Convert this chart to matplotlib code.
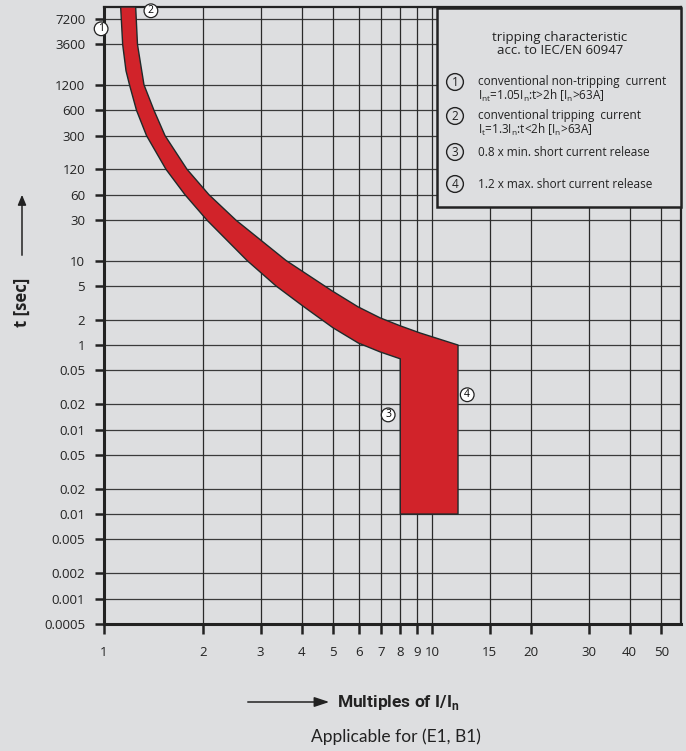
import matplotlib
matplotlib.use('Agg')
import matplotlib.pyplot as plt
from matplotlib.patches import Rectangle, FancyArrowPatch

plt.rcParams['font.family'] = ['Open Sans', 'DejaVu Sans']

BG = '#dddee0'
RED = '#d1232a'

# y ticks (real values) and the labels as printed on the sheet
y_ticks = [7200, 3600, 1200, 600, 300, 120, 60, 30, 10, 5, 2, 1,
           0.5, 0.2, 0.1, 0.05, 0.02, 0.01, 0.005, 0.002, 0.001, 0.0005]
y_labels = ['7200', '3600', '1200', '600', '300', '120', '60', '30', '10', '5', '2', '1',
            '0.05', '0.02', '0.01', '0.05', '0.02', '0.01', '0.005', '0.002', '0.001', '0.0005']
x_ticks = [1, 2, 3, 4, 5, 6, 7, 8, 9, 10, 15, 20, 30, 40, 50]

# lower limit of the band (I/In, t[s])
low_x = [1.124, 1.140, 1.167, 1.196, 1.256, 1.348, 1.545, 1.766, 2.061, 2.73,
         3.345, 4.07, 4.99, 5.95, 6.94, 8.0]
low_t = [10000, 3600, 1758, 1200, 600, 300, 120, 60, 30, 10,
         5, 2.83, 1.6, 1.06, 0.83, 0.687]
# upper limit of the band
up_x = [1.249, 1.265, 1.324, 1.420, 1.535, 1.791, 2.090, 2.526, 3.59, 4.955,
        5.95, 6.94, 7.99, 9.19, 12.0]
up_t = [10000, 3600, 1200, 600, 300, 120, 60, 30, 10, 4.38,
        2.83, 2.1, 1.69, 1.39, 1.0]
# instantaneous release block
inst_x = [8.0, 12.0]
inst_t_min = 0.01

W, H = 686, 751
fig = plt.figure(figsize=(W / 100, H / 100), dpi=100, facecolor=BG)
ax = fig.add_axes([104 / W, 1 - 624 / H, (681 - 104) / W, (624 - 7) / H])
ax.set_facecolor(BG)
ax.set_xscale('log')
ax.set_yscale('log')
ax.set_xlim(1, 57.4)
ax.set_ylim(0.0005, 10000)

# grid
for yv in y_ticks:
    ax.axhline(yv, color='#3a3a3a', lw=0.9, zorder=1)
for xv in x_ticks[1:]:
    ax.axvline(xv, color='#2a2a2a', lw=0.9, zorder=1)

# band polygon
px = low_x + [inst_x[0], inst_x[1]] + up_x[::-1]
pt = low_t + [inst_t_min, inst_t_min] + up_t[::-1]
ax.fill(px, pt, facecolor=RED, edgecolor='#1f2a2a', lw=1.0, zorder=3,
        joinstyle='round')

ax.set_xticks(x_ticks)
ax.set_xticklabels([str(v) for v in x_ticks])
ax.set_yticks(y_ticks)
ax.set_yticklabels(y_labels)
ax.minorticks_off()
ax.tick_params(axis='y', direction='out', length=6.5, width=1.8, pad=7,
               labelsize=9.5, colors='#222222')
ax.tick_params(axis='x', direction='out', length=7, width=1.8, pad=9,
               labelsize=9.5, colors='#222222')
for s in ['left', 'bottom']:
    ax.spines[s].set_linewidth(2.2)
    ax.spines[s].set_color('#222222')
for s in ['top', 'right']:
    ax.spines[s].set_linewidth(1.6)
    ax.spines[s].set_color('#222222')

# circled markers on the chart
circ = dict(boxstyle='circle,pad=0.13', fc='white', ec='#222222', lw=0.9)
for num, (xx, tt) in zip(['1', '2', '3', '4'],
                         [(0.98, 5520), (1.39, 9020), (7.35, 0.149), (12.8, 0.258)]):
    ax.text(xx, tt, num, fontsize=7.5, ha='center', va='center', bbox=circ,
            zorder=6, clip_on=False)


def F(x, y):
    return x / W, 1 - y / H


# legend box
box = Rectangle(F(437, 207), (681 - 437) / W, (207 - 8) / H, transform=fig.transFigure,
                facecolor=BG, edgecolor='#222222', lw=1.8, zorder=10)
fig.patches.append(box)

fig.text(*F(560, 37), 'tripping characteristic', fontsize=9.5, ha='center', va='center',
         color='#222222', zorder=11)
fig.text(*F(560, 51), 'acc. to IEC/EN 60947', fontsize=9.5, ha='center', va='center',
         color='#222222', zorder=11)

legend_items = [
    ('1', 82, 14, ['conventional non-tripping  current',
                   r'I$_\mathregular{nt}$=1.05I$_\mathregular{n}$:t>2h [I$_\mathregular{n}$>63A]']),
    ('2', 116, 14, ['conventional tripping  current',
                    r'I$_\mathregular{t}$=1.3I$_\mathregular{n}$:t<2h [I$_\mathregular{n}$>63A]']),
    ('3', 152, 0, ['0.8 x min. short current release']),
    ('4', 184, 0, ['1.2 x max. short current release']),
]
lcirc = dict(boxstyle='circle,pad=0.16', fc='none', ec='#222222', lw=1.0)
for num, yy, gap, lines in legend_items:
    fig.text(*F(455, yy), num, fontsize=8.5, ha='center', va='center', bbox=lcirc,
             zorder=11, color='#222222')
    for i, ln in enumerate(lines):
        fig.text(*F(478, yy + i * gap), ln, fontsize=8.5, ha='left', va='center',
                 color='#222222', zorder=11)

# axis titles
fig.text(*F(22, 302), 't [sec]', rotation=90, fontsize=12, fontweight='bold',
         ha='center', va='center', color='#222222')
fig.patches.append(FancyArrowPatch(
    F(22, 258), F(22, 192), transform=fig.transFigure, arrowstyle='-|>,head_length=6,head_width=2.5',
    color='#222222', lw=1.1, mutation_scale=1))
fig.text(*F(337, 702), r'Multiples of I/I$_\mathregular{n}$', fontsize=12.5, fontweight='bold',
         ha='left', va='center', color='#222222', family=['Roboto', 'DejaVu Sans'])
fig.patches.append(FancyArrowPatch(
    F(245, 702), F(332, 702), transform=fig.transFigure, arrowstyle='-|>,head_length=9,head_width=3',
    color='#222222', lw=1.1, mutation_scale=1))
fig.text(*F(396, 737), 'Applicable for (E1, B1)', fontsize=12.5, ha='center', va='center',
         color='#222222', family=['Lato', 'DejaVu Sans'])

fig.savefig('out.png', dpi=100, facecolor=BG)
